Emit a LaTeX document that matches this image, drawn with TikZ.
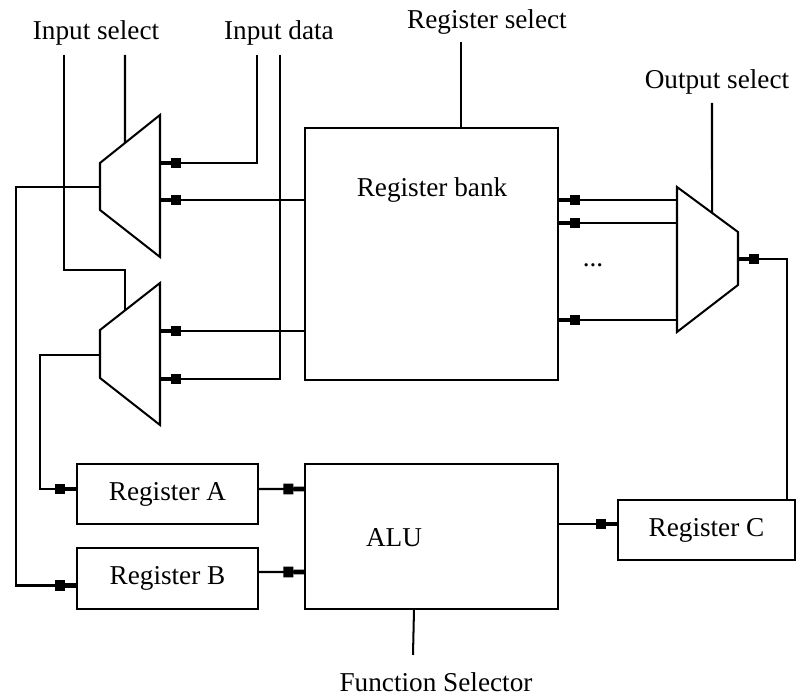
\documentclass[tikz,border=0pt]{standalone}
\usepackage{fontspec}
\setmainfont{Liberation Serif}
\usetikzlibrary{arrows.meta,calc,positioning}

\begin{document}
\begin{tikzpicture}[
  x=0.02cm, y=-0.02cm,
  every node/.style={font=\fontsize{15.5}{18}\selectfont, inner sep=0pt},
  wire/.style={draw=black, line width=1.15pt},
  feed/.style={wire, -{Square[length=5.8pt,width=6pt]Rectangle[length=6pt,width=2.8pt]}},
  regbox/.style={draw=black, line width=1.15pt, anchor=north west},
  mux/.style={draw=black, line width=1.15pt, line join=miter}
]
  \useasboundingbox (0,0) rectangle (796,695);

  % boxes
  \node[regbox, minimum width=5.06cm, minimum height=5.04cm] (bank) at (304,127) {};
  \node[regbox, minimum width=5.06cm, minimum height=2.9cm] (alu) at (304,463) {};
  \node[regbox, minimum width=3.62cm, minimum height=1.2cm] (regA) at (76,463) {Register A};
  \node[regbox, minimum width=3.62cm, minimum height=1.22cm] (regB) at (76,547) {Register B};
  \node[regbox, minimum width=3.54cm, minimum height=1.2cm] (regC) at (617,499) {Register C};

  \node (bankL) at (432,190) {Register bank};
  \node (aluL) at (394,538) {ALU};
  \node (dots) at (593,265) {...};

  % multiplexers
  \coordinate (m1tl) at (100,163); \coordinate (m1tr) at (160,115);
  \coordinate (m1br) at (160,257); \coordinate (m1bl) at (100,210);
  \coordinate (m2tl) at (100,330); \coordinate (m2tr) at (160,283);
  \coordinate (m2br) at (160,425); \coordinate (m2bl) at (100,378);
  \coordinate (motl) at (677,187); \coordinate (motr) at (738,232);
  \coordinate (mobr) at (738,285); \coordinate (mobl) at (677,332);
  \draw[mux] (m1tl) -- (m1tr) -- (m1br) -- (m1bl) -- cycle;
  \draw[mux] (m2tl) -- (m2tr) -- (m2br) -- (m2bl) -- cycle;
  \draw[mux] (motl) -- (motr) -- (mobr) -- (mobl) -- cycle;

  % ports
  \coordinate (m1a) at (160,163); \coordinate (m1b) at (160,200);
  \coordinate (m1o) at (100,187);
  \coordinate (m2a) at (160,331); \coordinate (m2b) at (160,379);
  \coordinate (m2o) at (100,355);
  \coordinate (moa) at (677,200); \coordinate (mob) at (677,223);
  \coordinate (moc) at (677,320); \coordinate (moo) at (738,259);
  \coordinate (m1s) at ($(m1tl)!0.4167!(m1tr)$);
  \coordinate (m2s) at ($(m2tl)!0.4167!(m2tr)$);
  \coordinate (mos) at ($(motl)!0.574!(motr)$);

  % control and data inputs
  \node (inselL) at (96,33) {Input select};
  \node (indatL) at (279,33) {Input data};
  \node (rselL) at (487,22) {Register select};
  \node (oselL) at (717,82) {Output select};
  \node (fselL) at (436,682) {Function Selector};
  \coordinate (sel1) at (64,55); \coordinate (sel2) at (125,55);
  \coordinate (dat1) at (257,55); \coordinate (dat2) at (280,55);
  \coordinate (rsel) at (461,42); \coordinate (osel) at (712,103);
  \coordinate (fsel) at (413,655);

  \draw[wire] (sel1) |- ($(m2s)+(0,-40)$) -- (m2s);
  \draw[wire] (sel2) -- (m1s);
  \draw[feed] (dat1) |- (m1a);
  \draw[feed] (dat2) |- (m2b);
  \draw[wire] (rsel) -- (rsel |- bank.north);
  \draw[wire] (osel) -- (mos);
  \draw[wire] ($(alu.south)+(-17.5,0)$) -- (fsel);

  % bank to muxes
  \draw[feed] (bank.west |- m1b) -- (m1b);
  \draw[feed] (bank.west |- m2a) -- (m2a);
  \draw[feed] (moa) -- (moa -| bank.east);
  \draw[feed] (mob) -- (mob -| bank.east);
  \draw[feed] (moc) -- (moc -| bank.east);

  % registers and ALU
  \draw[feed] (m2o) -| ($(regA.west)+(-36,-5)$) -- ($(regA.west)+(0,-5)$);
  \draw[feed] (m1o) -| ($(regB.west)+(-60,7)$) -- ($(regB.west)+(0,7)$);
  \draw[feed] ($(regA.east)+(0,-5)$) -- ($(alu.west)+(0,-47.5)$);
  \draw[feed] ($(regB.east)+(0,-6.5)$) -- ($(alu.west)+(0,35.5)$);
  \draw[feed] ($(alu.east)+(0,-12.5)$) coordinate (aluo) -- (aluo -| regC.west);
  \draw[feed] ($(regC.north east)+(-9,0)$) |- (moo);
\end{tikzpicture}
\end{document}
